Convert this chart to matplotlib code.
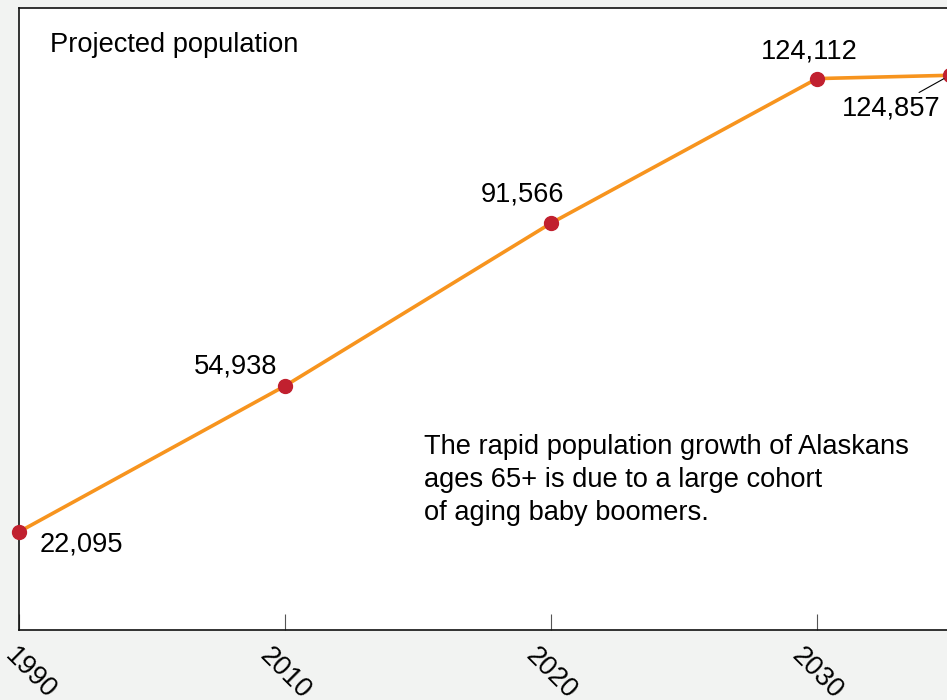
import numpy as np
import matplotlib
matplotlib.use("Agg")
import matplotlib.pyplot as plt
import matplotlib.transforms as mtransforms

plt.rcParams['font.family'] = ['Liberation Sans', 'DejaVu Sans']

# Alaskans 65+, projected population
years = [1990, 2010, 2020, 2030, 2035]
population = [22095, 54938, 91566, 124112, 124857]
tick_years = [1990, 2010, 2020, 2030, 2040]
tick_labels = ['1990', '2010', '2020', '2030', '2040']

note = ("The rapid population growth of Alaskans\n"
        "ages 65+ is due to a large cohort\n"
        "of aging baby boomers.")

# x axis is evenly spaced per tick, not linear in years
x = np.interp(years, tick_years, np.arange(len(tick_years)))

fig = plt.figure(figsize=(9.47, 7), dpi=100, facecolor='#f2f3f2')
ax = fig.add_axes([19/947, 70/700, 1064/947, 622/700])
ax.set_facecolor('white')

ax.plot(x, population, color='#f7941e', lw=2.6, zorder=2)
ax.plot(x, population, 'o', color='#c1202f', ms=10, zorder=3, clip_on=False)

fs = 19.6
ax.set_xlim(0, len(tick_years) - 1)
ax.set_ylim(0, 140000)
ax.set_xticks(np.arange(len(tick_years)))
ax.set_xticklabels(tick_labels, rotation=-45, ha='center', va='top', fontsize=fs)
ax.set_yticks([])
ax.tick_params(axis='x', direction='in', length=11.5, width=0.8, color='#555555', pad=9)
for s in ax.spines.values():
    s.set_color('#111111')
    s.set_linewidth(1.2)

# first label sits a bit right so it stays inside the figure
lbl0 = ax.get_xticklabels()[0]
lbl0.set_transform(lbl0.get_transform() + mtransforms.ScaledTranslation(11/100, 0, fig.dpi_scale_trans))

offsets = [(21, -13, 'left'), (-8, 19, 'right'), (13, 29, 'right'), (-8, 27, 'center'), (-10, -33, 'right')]
for xi, yi, (dx, dy, ha) in zip(x, population, offsets):
    kw = {}
    if dy == -33:
        kw['arrowprops'] = dict(arrowstyle='-', color='black', lw=0.8, shrinkA=0, shrinkB=5)
    ax.annotate(f'{yi:,}', (xi, yi), xytext=(dx, dy), textcoords='offset pixels',
                ha=ha, va='center', fontsize=fs, **kw)

ax.text(31/1064, 1 - 37/622, 'Projected population', transform=ax.transAxes,
        ha='left', va='center', fontsize=fs)
ax.text(405/1064, 1 - 426/622, note, transform=ax.transAxes,
        ha='left', va='top', fontsize=fs, linespacing=1.36)

plt.savefig('out.png', dpi=100, facecolor=fig.get_facecolor())
